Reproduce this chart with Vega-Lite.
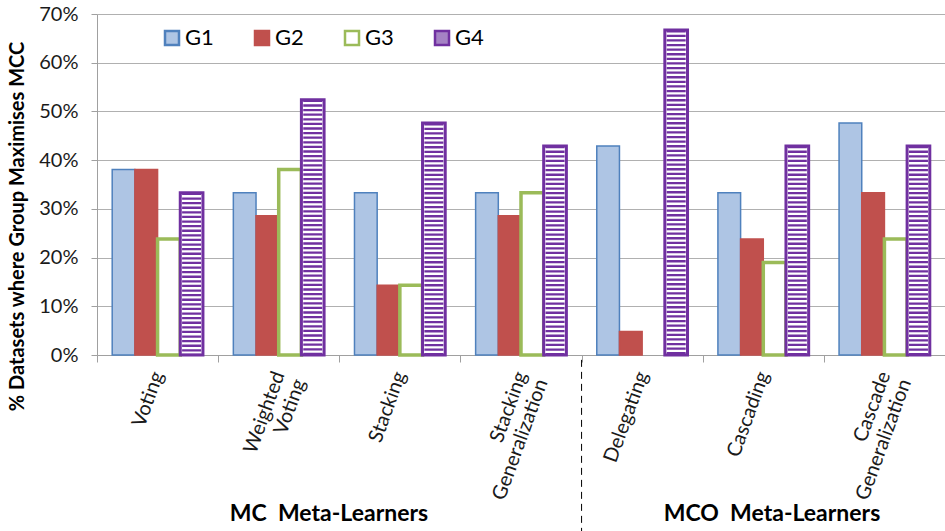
{
  "$schema": "https://vega.github.io/schema/vega-lite/v6.json",
  "width": 848,
  "height": 341,
  "autosize": {"type": "none"},
  "padding": {"left": 97, "top": 14, "right": 0, "bottom": 176},
  "background": "white",
  "config": {
    "font": "Lato",
    "view": {"stroke": null},
    "axis": {"domainColor": "#a0a0a0", "tickColor": "#a0a0a0", "gridColor": "#b0b0b0", "labelColor": "#1a1a1a", "labelFont": "Lato", "labelFontSize": 20, "titleFont": "Lato"}
  },
  "datasets": {
    "bars": [
      {"method": "Voting", "group": "G1", "value": 0.381},
      {"method": "Voting", "group": "G2", "value": 0.381},
      {"method": "Voting", "group": "G3", "value": 0.238},
      {"method": "Voting", "group": "G4", "value": 0.333},
      {"method": "Weighted Voting", "group": "G1", "value": 0.333},
      {"method": "Weighted Voting", "group": "G2", "value": 0.286},
      {"method": "Weighted Voting", "group": "G3", "value": 0.381},
      {"method": "Weighted Voting", "group": "G4", "value": 0.524},
      {"method": "Stacking", "group": "G1", "value": 0.333},
      {"method": "Stacking", "group": "G2", "value": 0.143},
      {"method": "Stacking", "group": "G3", "value": 0.143},
      {"method": "Stacking", "group": "G4", "value": 0.476},
      {"method": "Stacking Generalization", "group": "G1", "value": 0.333},
      {"method": "Stacking Generalization", "group": "G2", "value": 0.286},
      {"method": "Stacking Generalization", "group": "G3", "value": 0.333},
      {"method": "Stacking Generalization", "group": "G4", "value": 0.429},
      {"method": "Delegating", "group": "G1", "value": 0.429},
      {"method": "Delegating", "group": "G2", "value": 0.048},
      {"method": "Delegating", "group": "G3", "value": 0},
      {"method": "Delegating", "group": "G4", "value": 0.667},
      {"method": "Cascading", "group": "G1", "value": 0.333},
      {"method": "Cascading", "group": "G2", "value": 0.238},
      {"method": "Cascading", "group": "G3", "value": 0.19},
      {"method": "Cascading", "group": "G4", "value": 0.429},
      {"method": "Cascade Generalization", "group": "G1", "value": 0.476},
      {"method": "Cascade Generalization", "group": "G2", "value": 0.333},
      {"method": "Cascade Generalization", "group": "G3", "value": 0.238},
      {"method": "Cascade Generalization", "group": "G4", "value": 0.429}
    ]
  },
  "data": {"name": "bars"},
  "layer": [
    {
      "transform": [{"filter": "datum.value > 0"}],
      "mark": {"type": "bar"},
      "encoding": {
        "x": {
          "field": "method", "type": "nominal",
          "scale": {"domain": ["Voting", "Weighted Voting", "Stacking", "Stacking Generalization", "Delegating", "Cascading", "Cascade Generalization"], "paddingInner": 0, "paddingOuter": 0},
          "axis": {"title": null, "labelAngle": -70, "labelExpr": "isValid(datum.value) ? split(datum.value, ' ') : ''", "tickBand": "extent", "tickSize": 7, "labelPadding": 10, "grid": false, "labelOverlap": false, "labelLineHeight": 22}
        },
        "xOffset": {"field": "group", "type": "nominal", "scale": {"domain": ["G1", "G2", "G3", "G4"], "paddingInner": 0, "paddingOuter": 0.67}},
        "y": {
          "field": "value", "type": "quantitative",
          "scale": {"domain": [0, 0.7], "nice": false},
          "axis": {"values": [0, 0.1, 0.2, 0.3, 0.4, 0.5, 0.6, 0.7], "format": ".0%", "tickSize": 6, "labelPadding": 13, "grid": true, "title": "% Datasets where Group Maximises MCC", "titleFontSize": 20, "titleFontWeight": "bold", "titleColor": "black", "titleX": -70, "titleY": 212}
        },
        "fill": {
          "field": "group", "type": "nominal",
          "scale": {"domain": ["G1", "G2", "G3", "G4"], "range": ["#aec5e4", "#c0504d", "#ffffff", "#a582c4"]},
          "legend": {"title": null, "orient": "none", "legendX": 64, "legendY": 13, "direction": "horizontal", "symbolType": "square", "symbolSize": 196, "symbolStrokeWidth": 2.5, "labelFontSize": 22, "labelFont": "Lato", "labelColor": "black", "columnPadding": 36, "labelOffset": 2, "padding": 0}
        },
        "stroke": {
          "field": "group", "type": "nominal",
          "scale": {"domain": ["G1", "G2", "G3", "G4"], "range": ["#4f81bd", "#c0504d", "#9bbb59", "#7030a0"]},
          "legend": {"title": null, "orient": "none", "legendX": 64, "legendY": 13, "direction": "horizontal", "symbolType": "square", "symbolSize": 196, "symbolStrokeWidth": 2.5, "labelFontSize": 22, "labelFont": "Lato", "labelColor": "black", "columnPadding": 36, "labelOffset": 2, "padding": 0}
        },
        "strokeWidth": {"condition": {"test": "datum.group == 'G3'", "value": 3.5}, "value": 1.5}
      }
    },
    {
      "transform": [{"filter": "datum.group == 'G4'"}],
      "mark": {"type": "bar", "fill": "white", "stroke": "#7030a0", "strokeWidth": 3},
      "encoding": {
        "x": {"field": "method", "type": "nominal"},
        "xOffset": {"field": "group", "type": "nominal"},
        "y": {"field": "value", "type": "quantitative"}
      }
    },
    {
      "transform": [{"filter": "datum.group == 'G4'"}],
      "mark": {"type": "rule", "stroke": "#7030a0", "strokeWidth": 19, "strokeDash": [2.3, 2.3]},
      "encoding": {
        "x": {"field": "method", "type": "nominal"},
        "xOffset": {"field": "group", "type": "nominal"},
        "y": {"field": "value", "type": "quantitative"},
        "y2": {"datum": 0}
      }
    },
    {
      "data": {"values": [{"boundary": "Delegating"}]},
      "mark": {"type": "rule", "color": "black", "strokeWidth": 1, "strokeDash": [7, 5]},
      "encoding": {
        "x": {"field": "boundary", "type": "nominal", "bandPosition": 0},
        "y": {"datum": -0.01},
        "y2": {"datum": -0.362}
      }
    },
    {
      "data": {"values": [{"label": "MC\u00a0 Meta-Learners", "anchor": "Weighted Voting"}]},
      "mark": {"type": "text", "font": "Lato", "fontSize": 23, "fontWeight": "bold", "color": "black", "align": "center", "baseline": "middle"},
      "encoding": {
        "x": {"field": "anchor", "type": "nominal", "bandPosition": 0.915},
        "y": {"datum": -0.3264},
        "text": {"field": "label"}
      }
    },
    {
      "data": {"values": [{"label": "MCO\u00a0 Meta-Learners", "anchor": "Cascading"}]},
      "mark": {"type": "text", "font": "Lato", "fontSize": 23, "fontWeight": "bold", "color": "black", "align": "center", "baseline": "middle"},
      "encoding": {
        "x": {"field": "anchor", "type": "nominal", "bandPosition": 0.572},
        "y": {"datum": -0.3264},
        "text": {"field": "label"}
      }
    }
  ]
}
